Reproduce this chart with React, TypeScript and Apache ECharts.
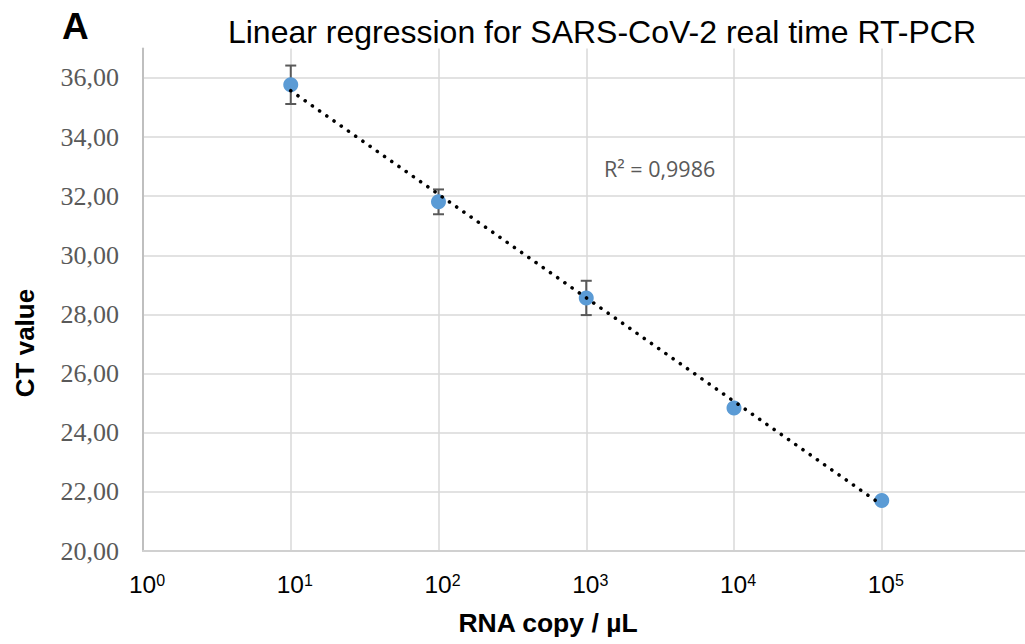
import React, { useEffect, useRef } from "react";
import * as echarts from "echarts";

// ---- Data ----
const copies = [10, 100, 1000, 10000, 100000];
const ctValues = [35.77, 31.81, 28.56, 24.84, 21.71];
const ctErrors = [0.65, 0.42, 0.58, 0.12, 0.1];
// Trendline end points (as drawn in the reference)
const trendX = [10, 100000];
const trendY = [35.57, 21.56];
const yTicks = { min: 20, max: 37, interval: 2 };
const xRange = { min: 1, max: 1000000 };

const titleText = "Linear regression for SARS-CoV-2 real time RT-PCR";
const panelLabel = "A";
const r2Text = "R² = 0,9986";
const yName = "CT value";
const xName = "RNA copy / µL";

export default function App() {
  const ref = useRef<HTMLDivElement>(null);

  useEffect(() => {
    if (!ref.current) return;
    const chart = echarts.init(ref.current, null, { renderer: "svg" });

    const pointData = copies.map((c, i) => [c, ctValues[i]]);
    const errData = copies.map((c, i) => [c, ctValues[i], ctErrors[i]]);
    const trendData = trendX.map((x, i) => [x, trendY[i]]);

    const option: any = {
      animation: false,
      backgroundColor: "#ffffff",
      grid: {
        left: 143,
        top: 48.4,
        bottom: 93,
        right: -4.5,
        containLabel: false,
        outerBoundsMode: "none",
      },
      xAxis: {
        type: "log",
        logBase: 10,
        min: xRange.min,
        max: xRange.max,
        axisLine: { show: true, lineStyle: { color: "#d0d0d0", width: 2 } },
        axisTick: { show: false },
        splitLine: { show: true, lineStyle: { color: "#d9d9d9", width: 1.5 } },
        minorTick: { show: false },
        minorSplitLine: { show: false },
        axisLabel: {
          showMaxLabel: false,
          margin: 21,
          padding: [0, 0, 0, 8],
          formatter: (v: number) => {
            const n = Math.round(Math.log10(v));
            return "{b|10}{s|" + n + "}";
          },
          rich: {
            b: {
              fontSize: 24.5,
              fontFamily: "Liberation Sans, Arial, sans-serif",
              color: "#000000",
            },
            s: {
              fontSize: 16,
              fontFamily: "Liberation Sans, Arial, sans-serif",
              color: "#000000",
              verticalAlign: "top",
            },
          },
        },
      },
      yAxis: {
        type: "value",
        min: yTicks.min,
        max: yTicks.max,
        interval: yTicks.interval,
        axisLine: { show: true, lineStyle: { color: "#bfbfbf", width: 2 } },
        axisTick: { show: false },
        splitLine: {
          show: true,
          showMaxLine: false,
          lineStyle: { color: "#d9d9d9", width: 1.5 },
        },
        axisLabel: {
          showMaxLabel: false,
          margin: 24,
          fontSize: 26,
          fontFamily: "Liberation Serif, Times New Roman, serif",
          color: "#595959",
          formatter: (v: number) => v.toFixed(2).replace(".", ","),
        },
      },
      graphic: [
        {
          type: "text",
          left: 62,
          top: 8,
          style: {
            text: panelLabel,
            fontSize: 37,
            fontWeight: "bold",
            fontFamily: "Liberation Sans, Arial, sans-serif",
            fill: "#000000",
          },
        },
        {
          type: "text",
          x: 602,
          y: 32,
          style: {
            text: titleText,
            fontSize: 32,
            fontFamily: "Liberation Sans, Arial, sans-serif",
            fill: "#000000",
            align: "center",
            verticalAlign: "middle",
          },
        },
        {
          type: "text",
          x: 604,
          y: 168,
          style: {
            text: r2Text,
            fontSize: 21.5,
            fontFamily: "Open Sans, Noto Sans, sans-serif",
            fill: "#595959",
            align: "left",
            verticalAlign: "middle",
          },
        },
        {
          type: "text",
          x: 25,
          y: 343,
          rotation: Math.PI / 2,
          style: {
            text: yName,
            fontSize: 26,
            fontWeight: "bold",
            fontFamily: "Liberation Sans, Arial, sans-serif",
            fill: "#000000",
            align: "center",
            verticalAlign: "middle",
          },
        },
        {
          type: "text",
          x: 548,
          y: 623,
          style: {
            text: xName,
            fontSize: 26.5,
            fontWeight: "bold",
            fontFamily: "Liberation Sans, Arial, sans-serif",
            fill: "#000000",
            align: "center",
            verticalAlign: "middle",
          },
        },
      ],
      series: [
        {
          type: "custom",
          name: "error",
          z: 1,
          data: errData,
          encode: { x: 0, y: 1 },
          renderItem: (params: any, api: any) => {
            const x = api.value(0);
            const y = api.value(1);
            const e = api.value(2);
            const top = api.coord([x, y + e]);
            const bot = api.coord([x, y - e]);
            const cap = 5.5;
            const style = { stroke: "#595959", lineWidth: 2 };
            return {
              type: "group",
              children: [
                { type: "line", shape: { x1: top[0], y1: top[1], x2: bot[0], y2: bot[1] }, style },
                { type: "line", shape: { x1: top[0] - cap, y1: top[1], x2: top[0] + cap, y2: top[1] }, style },
                { type: "line", shape: { x1: bot[0] - cap, y1: bot[1], x2: bot[0] + cap, y2: bot[1] }, style },
              ],
            };
          },
        },
        {
          type: "scatter",
          name: "CT",
          z: 2,
          data: pointData,
          symbol: "circle",
          symbolSize: 15,
          itemStyle: { color: "#5b9bd5", opacity: 1 },
        },
        {
          type: "line",
          name: "trend",
          z: 3,
          data: trendData,
          symbol: "none",
          lineStyle: { color: "#000000", width: 3.6, type: [0.01, 8.8], cap: "round" },
        },
      ],
    };

    chart.setOption(option);
    return () => chart.dispose();
  }, []);

  return (
    <div
      ref={ref}
      style={{ position: "fixed", left: 0, top: 0, width: 1025, height: 644, background: "#fff" }}
    />
  );
}
